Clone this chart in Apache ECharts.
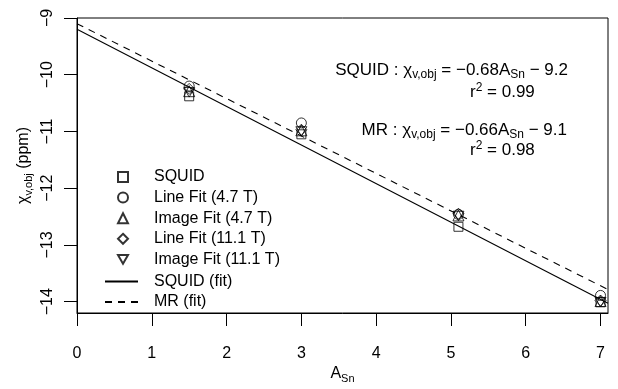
<!DOCTYPE html>
<html>
<head>
<meta charset="utf-8">
<script src="https://cdn.jsdelivr.net/npm/echarts@6/dist/echarts.min.js"></script>
<style>html,body{margin:0;padding:0;background:#fff}#c{width:618px;height:389px}</style>
</head>
<body>
<div id="c"></div>
<script>
const xVals = [1.5, 3, 5.1, 7];
const squid = [-10.38, -11.05, -12.68, -14.01];
const lineFit47 = [-10.2, -10.85, -12.46, -13.89];
const imageFit47 = [-10.29, -10.98, -12.48, -13.99];
const lineFit111 = [-10.25, -10.97, -12.45, -13.98];
const imageFit111 = [-10.31, -11.0, -12.49, -14.01];
const squidFitEnds = [[0, -9.2], [7.1, -14.028]];
const mrFitEnds = [[0, -9.1], [7.1, -13.786]];
const xTicks = [0, 1, 2, 3, 4, 5, 6, 7];
const yTicks = [-14, -13, -12, -11, -10, -9];

const FONT = 'Liberation Sans, Arial, Helvetica, sans-serif';
const pts = ys => xVals.map((x, i) => [x, ys[i]]);
const hollow = { color: 'rgba(0,0,0,0)', borderColor: '#000', borderWidth: 1 };
const invTri = 'path://M0,0 L10,0 L5,8.66 Z';
const minus = v => String(v).replace('-', '\u2212');

const scatterDefs = [
  { name: 'SQUID', data: squid, symbol: 'rect', size: 9 },
  { name: 'Line Fit (4.7 T)', data: lineFit47, symbol: 'circle', size: 10 },
  { name: 'Image Fit (4.7 T)', data: imageFit47, symbol: 'triangle', size: 11 },
  { name: 'Line Fit (11.1 T)', data: lineFit111, symbol: 'diamond', size: 11 },
  { name: 'Image Fit (11.1 T)', data: imageFit111, symbol: invTri, size: 11 }
];

const series = scatterDefs.map(d => ({
  type: 'scatter', name: d.name, data: pts(d.data), symbol: d.symbol,
  symbolSize: d.size, symbolKeepAspect: true, itemStyle: hollow, z: 3, emphasis: { disabled: true }
}));
series.push({
  type: 'line', name: 'SQUID (fit)', data: squidFitEnds, symbol: 'none', showSymbol: false,
  lineStyle: { color: '#000', width: 1.1, type: 'solid' },
  itemStyle: { color: 'rgba(0,0,0,0)', borderWidth: 0 }, z: 2
});
series.push({
  type: 'line', name: 'MR (fit)', data: mrFitEnds, symbol: 'none', showSymbol: false,
  lineStyle: { color: '#000', width: 1.1, type: [7, 6] },
  itemStyle: { color: 'rgba(0,0,0,0)', borderWidth: 0 }, z: 2
});

const textSty = { fontFamily: FONT, fontSize: 16, color: '#000' };
const rich = {
  n: { fontFamily: FONT, fontSize: 16, color: '#000', lineHeight: 20, verticalAlign: 'middle' },
  s: { fontFamily: FONT, fontSize: 11, color: '#000', lineHeight: 11, verticalAlign: 'bottom' },
  u: { fontFamily: FONT, fontSize: 11, color: '#000', lineHeight: 11, verticalAlign: 'top' }
};
const richEq = {
  n: { fontFamily: FONT, fontSize: 17, color: '#000', lineHeight: 21, verticalAlign: 'middle' },
  s: { fontFamily: FONT, fontSize: 12, color: '#000', lineHeight: 12, verticalAlign: 'bottom' },
  u: { fontFamily: FONT, fontSize: 12, color: '#000', lineHeight: 12, verticalAlign: 'top' }
};

const chart = echarts.init(document.getElementById('c'), null, { renderer: 'canvas' });
chart.setOption({
  animation: false,
  backgroundColor: '#fff',
  grid: { left: 77, right: 10, top: 18, bottom: 67, show: true, borderColor: '#000', borderWidth: 1 },
  xAxis: {
    type: 'value', min: 0, max: 7.1,
    name: '{n|A}{s|Sn}', nameLocation: 'middle', nameGap: 51, nameMoveOverlap: false,
    nameTextStyle: { rich: rich },
    axisLine: { show: true, lineStyle: { color: '#000', width: 1 } },
    axisTick: { show: true, length: 13, inside: false, customValues: xTicks, lineStyle: { color: '#000' } },
    axisLabel: { customValues: xTicks, margin: 33, ...textSty },
    splitLine: { show: false }
  },
  yAxis: {
    type: 'value', min: -14.2, max: -9,
    name: '{n|\u03c7}{s|v,obj}{n| (ppm)}', nameLocation: 'middle', nameGap: 43, nameRotate: 90, nameMoveOverlap: false,
    nameTextStyle: { rich: rich },
    axisLine: { show: true, lineStyle: { color: '#000', width: 1 } },
    axisTick: { show: true, length: 13, inside: false, customValues: yTicks, lineStyle: { color: '#000' } },
    axisLabel: { customValues: yTicks, rotate: 90, margin: 21, align: 'center', verticalAlign: 'bottom', formatter: minus, ...textSty },
    splitLine: { show: false }
  },
  legend: [
    {
      orient: 'vertical', left: 112, top: 164, itemWidth: 10, itemHeight: 10,
      itemGap: 4.6, selectedMode: false,
      textStyle: { ...textSty, lineHeight: 16, padding: [0, 0, 0, 21] },
      data: scatterDefs.map(d => d.name)
    },
    {
      orient: 'vertical', left: 99, top: 268.5, itemWidth: 33, itemHeight: 10,
      itemGap: 4.5, selectedMode: false,
      textStyle: { ...textSty, lineHeight: 16, padding: [0, 0, 0, 11] },
      data: ['SQUID (fit)', 'MR (fit)']
    }
  ],
  graphic: [
    { type: 'text', x: 568, y: 70, z: 10, style: { text: '{n|SQUID : \u03c7}{s|v,obj}{n| = \u22120.68A}{s|Sn}{n| \u2212 9.2}', rich: richEq, align: 'right', verticalAlign: 'middle' } },
    { type: 'text', x: 470, y: 92, z: 10, style: { text: '{n|r}{u|2}{n| = 0.99}', rich: richEq, align: 'left', verticalAlign: 'middle' } },
    { type: 'text', x: 567, y: 130, z: 10, style: { text: '{n|MR : \u03c7}{s|v,obj}{n| = \u22120.66A}{s|Sn}{n| \u2212 9.1}', rich: richEq, align: 'right', verticalAlign: 'middle' } },
    { type: 'text', x: 470, y: 150, z: 10, style: { text: '{n|r}{u|2}{n| = 0.98}', rich: richEq, align: 'left', verticalAlign: 'middle' } }
  ],
  series: series
});
</script>
</body>
</html>
